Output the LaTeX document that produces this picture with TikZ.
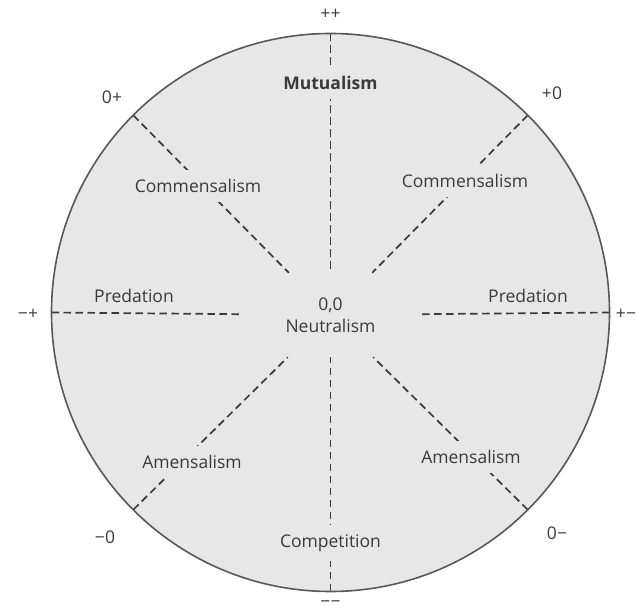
\documentclass[tikz,border=0pt]{standalone}
\usepackage{fontspec}
\setmainfont{Open Sans}
\usepackage{tikz}
\usetikzlibrary{calc}
\definecolor{discfill}{HTML}{E7E7E7}
\definecolor{inkgrey}{HTML}{3A3A3A}
\tikzset{
  int/disc/.style={draw=inkgrey!85, line width=1.6pt, fill=discfill},
  int/divider/.style={draw=inkgrey, line width=1.7pt, dash pattern=on 7.5pt off 4.5pt},
  int/label/.style={font=\fontsize{17.5}{22}\selectfont, text=inkgrey, fill=discfill, inner xsep=4pt, inner ysep=9pt},
  int/outer/.style={font=\fontsize{17.5}{22}\selectfont, text=inkgrey, inner sep=1pt},
  int/centre/.style={font=\fontsize{17.5}{22}\selectfont, text=inkgrey, align=center, minimum width=175pt, minimum height=84pt, inner sep=0pt}
}

\begin{document}
\begin{tikzpicture}[x=1pt, y=1pt]
\useasboundingbox (0,0) rectangle (638,613);
\coordinate (C) at (330.5,300.5);
\def\R{279}

\fill[discfill] (C) circle[radius=\R];

\node[int/centre] (neutral) at (330.5,298) {0,0\\Neutralism};

% points on the rim
\foreach \a/\n in {90/n,45/ne,0/e,-45/se,-90/s,-135/sw,180/w,135/nw}
  \coordinate (p\n) at ($(C)+(\a:\R)$);

\foreach \n in {n,ne,e,se,s,sw,w,nw}
  \draw[int/divider] (p\n) -- (neutral);

% sector labels
\node[int/label, font=\fontsize{17.5}{22}\selectfont\bfseries] (mutual) at (330.5,530) {Mutualism};
\node[int/label] (commL) at (198,427) {Commensalism};
\node[int/label] (commR) at (465,432) {Commensalism};
\node[int/label, fill=none] (predL) at (134,317) {Predation};
\node[int/label, fill=none] (predR) at (528,317) {Predation};
\node[int/label] (amenL) at (192,151) {Amensalism};
\node[int/label] (amenR) at (471,156) {Amensalism};
\node[int/label] (compet) at (330.5,70) {Competition};

\draw[int/disc, fill=none] (C) circle[radius=\R];

% signs round the rim
\node[int/outer] (pp) at (330.5,599) {++};
\node[int/outer] (mp) at (28,299) {−+};
\node[int/outer] (pm) at (626,299) {+−};
\node[int/outer] (zp) at (112,516) {0+};
\node[int/outer] (pz) at (552,520) {+0};
\node[int/outer] (mz) at (105,76) {−0};
\node[int/outer] (zm) at (557,80) {0−};
\node[int/outer] (mm) at (330.5,9) {−−};
\end{tikzpicture}
\end{document}
